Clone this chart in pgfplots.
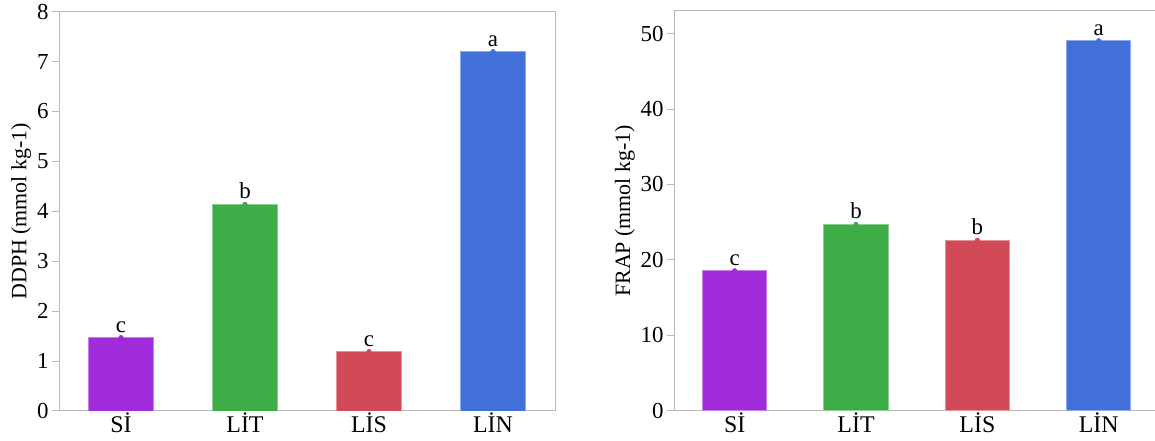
\documentclass[border=0pt]{standalone}
\usepackage{fontspec}
\setmainfont{Liberation Serif}
\usepackage{pgfplots}
\pgfplotsset{compat=1.18}
\definecolor{cpur}{HTML}{A02BDB}
\definecolor{cgre}{HTML}{3EAD48}
\definecolor{cred}{HTML}{D24A58}
\definecolor{cblu}{HTML}{4271DB}
\definecolor{cframe}{HTML}{B8B8B8}
\pgfplotsset{
  common/.style={
    anchor=south west, scale only axis,
    xmin=-0.5, ymin=0,
    xtick={0,1,2,3}, xticklabels={Sİ,LİT,LİS,LİN},
    axis line style={draw=cframe, line width=1bp},
    tick style={draw=cframe, line width=1bp},
    xtick style={draw=none},
    tick align=outside, major tick length=7bp, tick pos=left,
    yticklabel style={font=\fontsize{23}{26}\selectfont},
    xticklabel style={font=\fontsize{24}{28}\selectfont, inner sep=0pt, yshift=5bp},
    /pgf/number format/assume math mode=true,
    ybar, bar width=0.53, bar shift=0pt,
    nodes near coords, point meta=explicit symbolic,
    every node near coord/.append style={font=\fontsize{23}{26}\selectfont, text=black, anchor=south, inner sep=0pt, yshift=5bp},
  },
  bp/.style={fill=#1, draw=#1!60!white, line width=0.8bp, mark=*, mark size=2.3bp, mark options={fill=#1, draw=#1, line width=0.5bp}},
}
\begin{document}
\begin{tikzpicture}
\path[use as bounding box] (0,0) rectangle (1155bp,441bp);
\begin{axis}[common,
  at={(59bp,30bp)}, width=496bp, height=399.3bp,
  xmax=3.5, ymax=8, ytick={0,1,...,8},
  ylabel={DDPH (mmol kg-1)},
  ylabel style={font=\fontsize{22}{26}\selectfont, at={(axis description cs:-0.056,0.5)}, anchor=south, inner sep=0pt},
]
\addplot[bp=cpur] coordinates {(0,1.47) [c]};
\addplot[bp=cgre] coordinates {(1,4.14) [b]};
\addplot[bp=cred] coordinates {(2,1.19) [c]};
\addplot[bp=cblu] coordinates {(3,7.20) [a]};
\end{axis}
\begin{axis}[common,
  at={(674bp,30.3bp)}, width=481bp, height=399.7bp,
  xmax=3.464, ymax=53, ytick={0,10,...,50},
  axis x line*=box, axis y line*=left,
  ylabel={FRAP (mmol kg-1)},
  ylabel style={font=\fontsize{22}{26}\selectfont, at={(axis description cs:-0.081,0.5)}, anchor=south, inner sep=0pt},
]
\addplot[bp=cpur] coordinates {(0,18.55) [c]};
\addplot[bp=cgre] coordinates {(1,24.7) [b]};
\addplot[bp=cred] coordinates {(2,22.6) [b]};
\addplot[bp=cblu] coordinates {(3,49.05) [a]};
\end{axis}
\end{tikzpicture}
\end{document}
